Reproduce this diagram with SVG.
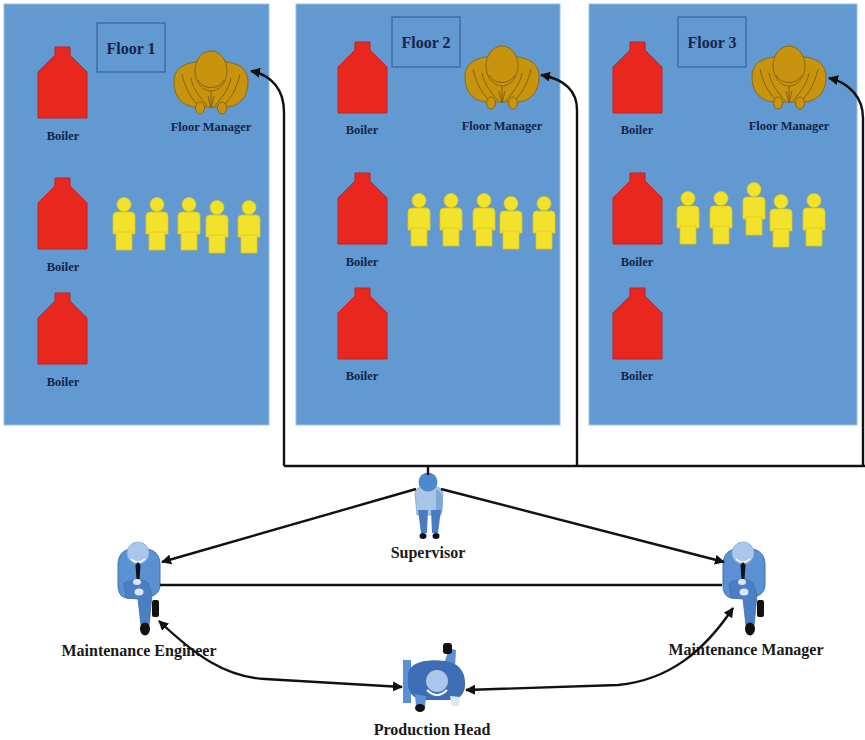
<svg xmlns="http://www.w3.org/2000/svg" width="865" height="740" viewBox="0 0 865 740">
  <style>
    .panel { fill: #6199d0; stroke: #9cc0e4; stroke-width: 1; }
    .floorbox { fill: none; stroke: #2f5a8c; stroke-width: 1; }
    .floortxt { font-family: "Liberation Serif", "Times New Roman", serif; font-weight: bold; font-size: 16px; fill: #15254a; text-anchor: middle; }
    .small { font-family: "Liberation Serif", "Times New Roman", serif; font-weight: bold; font-size: 12.5px; fill: #15254a; text-anchor: middle; }
    .big { font-family: "Liberation Serif", "Times New Roman", serif; font-weight: bold; font-size: 16px; fill: #1a1a1a; text-anchor: middle; }
    .boiler { fill: #e8281f; stroke: #c42026; stroke-width: 1; stroke-linejoin: round; }
    .worker { fill: #f2e22c; stroke: #d9c922; stroke-width: 0.8; }
    .fm-body { fill: #c8940e; stroke: #8a6a14; stroke-width: 1; }
    .fm-line { fill: none; stroke: #7d5f12; stroke-width: 0.9; }
    .wire { fill: none; stroke: #111; stroke-width: 2.4; }
  </style>
  <defs>
    <marker id="arrow" viewBox="0 0 10 10" refX="9" refY="5" markerWidth="4.2" markerHeight="4.2" orient="auto-start-reverse" markerUnits="strokeWidth">
      <path d="M0,0 L10,5 L0,10 Z" fill="#111"/>
    </marker>
    <!-- boiler: 49 x 71, origin top-left -->
    <path id="boiler" class="boiler" d="M17,0 H32 V8 L49,25 V71 H0 V25 L17,8 Z"/>
    <!-- worker figure: centred on x=0, head top at y=0 -->
    <g id="worker" class="worker">
      <circle cx="0" cy="7.5" r="7"/>
      <path d="M-11,19 Q-11,15 -7,15 H7 Q11,15 11,19 V37 H-11 Z"/>
      <rect x="-8" y="35" width="16" height="18"/>
    </g>
    <!-- floor manager seen from above, centred at 0,0 -->
    <g id="floorManager">
      <path class="fm-body" d="M-37,0 C-37,-17 -22,-21 0,-21 C22,-21 37,-17 37,0 C37,17 26,25 14,25 L-14,25 C-26,25 -37,17 -37,0 Z"/>
      <ellipse class="fm-body" cx="-11" cy="26" rx="4.5" ry="6"/>
      <ellipse class="fm-body" cx="11" cy="26" rx="4.5" ry="6"/>
      <path class="fm-line" d="M-29,-8 C-26,6 -20,16 -14,22 M29,-8 C26,6 20,16 14,22 M-20,-4 C-18,8 -10,16 -4,24 M20,-4 C18,8 10,16 4,24 M0,4 V26 M-3,14 L0,26 L3,14"/>
      <ellipse class="fm-body" cx="0" cy="-11" rx="16" ry="20"/>
      <path class="fm-line" d="M-13,-2 C-8,8 8,8 13,-2"/>
    </g>
    <!-- seated person in top view, head centre at 0,0 -->
    <g id="seated">
      <path d="M-20,12 C-20,-2 -10,-5 0,-5 C12,-5 22,-2 22,12 L22,32 C22,42 12,45 2,45 L-10,45 C-18,45 -20,38 -20,32 Z" fill="#5b90d2" stroke="#3f6fb2" stroke-width="1"/>
      <path d="M-14,30 C-6,26 4,25 10,30 L14,42 L11,73 L3,73 L0,46 L-12,45 Z" fill="#4a7fc4" stroke="#3f6fb2" stroke-width="0.8"/>
      <ellipse cx="-1" cy="29" rx="4" ry="3" fill="#dbe7f6"/>
      <ellipse cx="1" cy="39" rx="4.5" ry="3.5" fill="#dbe7f6"/>
      <rect x="14" y="47" width="7" height="17" rx="2" fill="#111"/>
      <ellipse cx="7" cy="76" rx="5" ry="6.5" fill="#111"/>
      <circle cx="0" cy="0" r="11" fill="#aac6ea" stroke="#8aaad8" stroke-width="0.8"/>
      <path d="M-7,6 Q0,12 7,6" fill="none" stroke="#ffffff" stroke-width="1.5"/>
      <polygon points="0,9 2.5,12 1.5,26 -1.5,26 -2.5,12" fill="#111"/>
    </g>
  </defs>

  <rect width="865" height="740" fill="#ffffff"/>

  <!-- Floor 1 -->
  <g id="floor1">
    <rect class="panel" x="4" y="4" width="265" height="421"/>
    <rect class="floorbox" x="97" y="23" width="68" height="49"/>
    <text class="floortxt" x="131" y="54">Floor 1</text>
  </g>
  <g id="floor1-boilers">
    <use href="#boiler" x="38" y="47"/>
    <text class="small" x="63" y="140">Boiler</text>
    <use href="#boiler" x="38" y="178"/>
    <text class="small" x="63" y="271">Boiler</text>
    <use href="#boiler" x="38" y="293"/>
    <text class="small" x="63" y="386">Boiler</text>
  </g>
  <g id="floor1-workers">
    <use href="#worker" x="124" y="197"/>
    <use href="#worker" x="157" y="197"/>
    <use href="#worker" x="189" y="197"/>
    <use href="#worker" x="217" y="200"/>
    <use href="#worker" x="249" y="200"/>
  </g>
  <g id="floor1-manager">
    <use href="#floorManager" x="211" y="82"/>
    <text class="small" x="211" y="131">Floor Manager</text>
  </g>

  <!-- Floor 2 -->
  <g id="floor2">
    <rect class="panel" x="296" y="4" width="264" height="421"/>
    <rect class="floorbox" x="392" y="17" width="68" height="50"/>
    <text class="floortxt" x="426" y="48">Floor 2</text>
  </g>
  <g id="floor2-boilers">
    <use href="#boiler" x="338" y="42"/>
    <text class="small" x="362" y="134">Boiler</text>
    <use href="#boiler" x="338" y="173"/>
    <text class="small" x="362" y="266">Boiler</text>
    <use href="#boiler" x="338" y="288"/>
    <text class="small" x="362" y="380">Boiler</text>
  </g>
  <g id="floor2-workers">
    <use href="#worker" x="419" y="193"/>
    <use href="#worker" x="451" y="193"/>
    <use href="#worker" x="484" y="193"/>
    <use href="#worker" x="511" y="196"/>
    <use href="#worker" x="544" y="196"/>
  </g>
  <g id="floor2-manager">
    <use href="#floorManager" x="502" y="77"/>
    <text class="small" x="502" y="130">Floor Manager</text>
  </g>

  <!-- Floor 3 -->
  <g id="floor3">
    <rect class="panel" x="589" y="4" width="268" height="421"/>
    <rect class="floorbox" x="678" y="17" width="68" height="50"/>
    <text class="floortxt" x="712" y="48">Floor 3</text>
  </g>
  <g id="floor3-boilers">
    <use href="#boiler" x="613" y="42"/>
    <text class="small" x="637" y="134">Boiler</text>
    <use href="#boiler" x="613" y="173"/>
    <text class="small" x="637" y="266">Boiler</text>
    <use href="#boiler" x="613" y="288"/>
    <text class="small" x="637" y="380">Boiler</text>
  </g>
  <g id="floor3-workers">
    <use href="#worker" x="688" y="191"/>
    <use href="#worker" x="721" y="191"/>
    <use href="#worker" x="754" y="182"/>
    <use href="#worker" x="781" y="194"/>
    <use href="#worker" x="814" y="193"/>
  </g>
  <g id="floor3-manager">
    <use href="#floorManager" x="789" y="77"/>
    <text class="small" x="789" y="130">Floor Manager</text>
  </g>

  <!-- Supervisor -->
  <g id="supervisor">
    <path d="M415,494 C415,488 420,486 428,486 C437,486 443,488 443,494 L441,515 L417,515 Z" fill="#a8c4e7" stroke="#7fa3d4" stroke-width="0.8"/>
    <path d="M436,489 C443,492 444,500 442,513 L436,513 Z" fill="#7ea6d8"/>
    <path d="M418,510 L428,510 L427,533 L421,533 Z" fill="#4a7cc2"/>
    <path d="M431,510 L441,510 L438,533 L432,533 Z" fill="#4a7cc2"/>
    <ellipse cx="423" cy="536" rx="3.5" ry="3" fill="#111"/>
    <ellipse cx="436" cy="536" rx="3.5" ry="3" fill="#111"/>
    <circle cx="428" cy="482" r="9.5" fill="#4f89cd"/>
    <text class="big" x="428" y="558">Supervisor</text>
  </g>

  <!-- Maintenance Engineer -->
  <g id="maintenance-engineer">
    <use href="#seated" x="138" y="553"/>
    <text class="big" x="139" y="656">Maintenance Engineer</text>
  </g>

  <!-- Maintenance Manager -->
  <g id="maintenance-manager">
    <use href="#seated" x="743" y="553"/>
    <text class="big" x="746" y="655">Maintenance Manager</text>
  </g>

  <!-- Production Head -->
  <g id="production-head">
    <rect x="403" y="660" width="8" height="43" fill="#5b90d2"/>
    <path d="M444,664 L449,648 L456,650 L455,668 Z" fill="#5b90d2"/>
    <rect x="443" y="643" width="9" height="11" rx="3" fill="#111"/>
    <path d="M408,674 C410,661 430,659 445,661 C460,663 466,673 465,686 C464,696 458,700 448,700 L425,700 C412,700 407,690 408,680 Z" fill="#3d6db4"/>
    <path d="M415,694 L426,696 L425,708 L416,707 Z" fill="#5b90d2"/>
    <ellipse cx="420" cy="708" rx="5" ry="4" fill="#111"/>
    <path d="M450,696 L460,697 L459,706 L452,706 Z" fill="#dbe7f6"/>
    <circle cx="437" cy="681" r="11" fill="#aac6ea"/>
    <path d="M427,690 Q437,700 447,690" fill="none" stroke="#ffffff" stroke-width="2"/>
    <text class="big" x="432" y="735">Production Head</text>
  </g>

  <!-- Connectors -->
  <g id="connectors">
    <path class="wire" d="M284,466 H865"/>
    <path class="wire" d="M428,466 V475"/>
    <path class="wire" d="M284,466 V112 C284,90 272,75 251,71" marker-end="url(#arrow)"/>
    <path class="wire" d="M577,466 V110 C577,90 563,79 541,75" marker-end="url(#arrow)"/>
    <path class="wire" d="M863,466 V118 C863,98 850,83 829,78" marker-end="url(#arrow)"/>
    <path class="wire" d="M416,489 L162,562" marker-end="url(#arrow)"/>
    <path class="wire" d="M441,489 L724,562" marker-end="url(#arrow)"/>
    <path class="wire" d="M160,585 H722"/>
    <path class="wire" d="M159,621 C195,655 225,677 265,679 L402,687" marker-start="url(#arrow)" marker-end="url(#arrow)"/>
    <path class="wire" d="M466,690 L618,685 C670,680 705,650 733,608" marker-start="url(#arrow)" marker-end="url(#arrow)"/>
  </g>
</svg>
